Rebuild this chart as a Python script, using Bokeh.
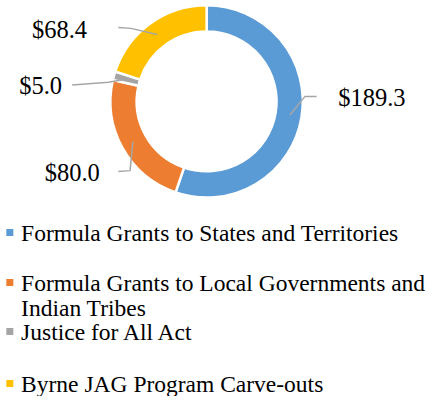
import math
from bokeh.plotting import figure
from bokeh.models import Range1d
from bokeh.core.properties import value
from bokeh.embed import file_html
from bokeh.resources import INLINE

# ---- data ----
categories = [
    "Formula Grants to States and Territories",
    "Formula Grants to Local Governments and Indian Tribes",
    "Justice for All Act",
    "Byrne JAG Program Carve-outs",
]
legend_lines = [
    ["Formula Grants to States and Territories"],
    ["Formula Grants to Local Governments and", "Indian Tribes"],
    ["Justice for All Act"],
    ["Byrne JAG Program Carve-outs"],
]
amounts = [189.3, 80.0, 5.0, 68.4]
value_labels = ["$189.3", "$80.0", "$5.0", "$68.4"]
colors = ["#5B9BD5", "#ED7D31", "#A5A5A5", "#FFC000"]

# ---- layout (reference pixel coords -> figure coords) ----
W, H = 427, 396
SX, SY = W / 435.0, H / 412.0
S = (SX + SY) / 2
def fx(px):
    return px * SX
def fy(py):
    return H - py * SY

CX, CY = 210, 105          # donut centre (reference px)
R_OUT, R_IN = 99 * S, 72 * S
FONT = "Liberation Serif"

p = figure(width=W, height=H, output_backend="svg", toolbar_location=None,
           x_range=Range1d(0, W), y_range=Range1d(0, H), min_border=0)
p.axis.visible = False
p.grid.visible = False
p.outline_line_color = None
p.background_fill_color = "white"

total = sum(amounts)
starts, ends, mids = [], [], []
a = math.pi / 2
for v in amounts:
    sweep = 2 * math.pi * v / total
    starts.append(a)
    ends.append(a - sweep)
    mids.append(a - sweep / 2)
    a -= sweep

p.annular_wedge(x=[fx(CX)] * 4, y=[fy(CY)] * 4, inner_radius=R_IN, outer_radius=R_OUT,
                inner_radius_units="screen", outer_radius_units="screen",
                start_angle=starts, end_angle=ends, direction="clock",
                fill_color=colors, line_color="white", line_width=2.5)

# leader lines + value labels
elbows = [(310, 100), (132, 177), (110, 85), (133, 29)]
line_ends = [(322, 100), (120, 178), (73, 88), (120, 28)]
label_pos = [(344, 101), (45, 179), (19, 88), (32, 30)]
for i in range(4):
    r = 86
    sx = CX + r * math.cos(mids[i])
    sy = CY - r * math.sin(mids[i])
    xs = [fx(sx), fx(elbows[i][0]), fx(line_ends[i][0])]
    ys = [fy(sy), fy(elbows[i][1]), fy(line_ends[i][1])]
    p.line(xs, ys, line_color="#A6A6A6", line_width=1.5)
    p.text(x=[fx(label_pos[i][0])], y=[fy(label_pos[i][1])], text=[value_labels[i]],
           text_font=value(FONT), text_font_size="24.5px", text_color="black",
           text_baseline="middle", text_align="left")

# legend
legend_centers = [[241.5], [293.5, 319.5], [344.5], [398.5]]
for i in range(4):
    c0 = legend_centers[i][0]
    p.rect(x=[fx(9.5)], y=[fy(c0)], width=7, height=7,
           width_units="screen", height_units="screen",
           fill_color=colors[i], line_color=None)
    for line, c in zip(legend_lines[i], legend_centers[i]):
        p.text(x=[fx(21)], y=[fy(c)], text=[line], text_font=value(FONT),
               text_font_size="23.5px", text_color="black",
               text_baseline="middle", text_align="left")

open("out.html", "w").write(file_html(p, INLINE))
